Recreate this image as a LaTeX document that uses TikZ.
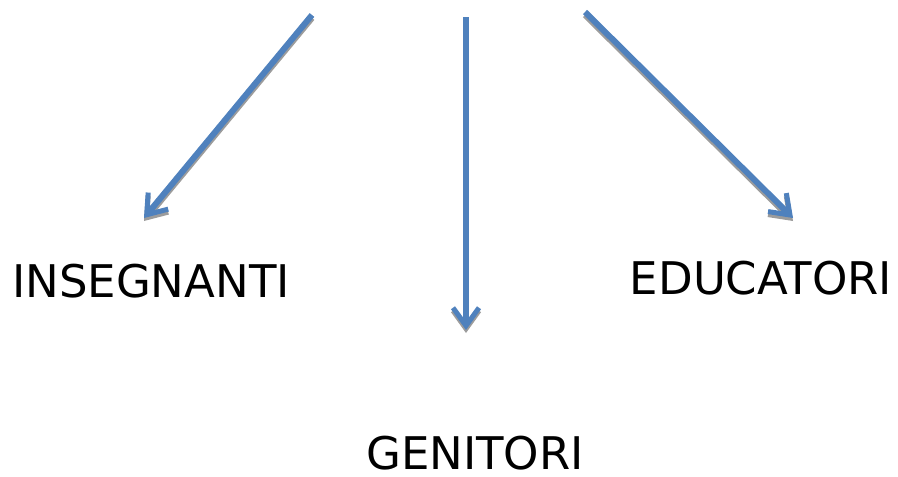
\documentclass[tikz,border=0pt]{standalone}
\usepackage{fontspec}
\setmainfont{DejaVu Sans}
\usepackage{tikz}
\usetikzlibrary{arrows.meta}
\tikzset{>=latex}
\usepackage{xcolor}
\definecolor{arrowblue}{HTML}{4F81BD}
\definecolor{shadowgray}{HTML}{9C9C9C}
\tikzstyle{pointer}=[line width=6pt,-{Straight Barb[length=18pt,width=26pt,line width=5pt]}]
\tikzstyle{word}=[inner sep=0pt,font=\fontsize{45}{54}\selectfont]

\begin{document}
\begin{tikzpicture}[x=1pt,y=-1pt]
				\useasboundingbox (0,0) rectangle (898,477);
				\node[word] at (151, 281)   (ins) {INSEGNANTI};
				\node[word] at (761, 278)   (edu) {EDUCATORI};
				\node[word] at (475, 453)   (gen) {GENITORI};
				
				\coordinate (s1) at (312,15);  \coordinate (t1) at (144,218);
				\coordinate (s2) at (466,17);  \coordinate (t2) at (466,330);
				\coordinate (s3) at (585,12);  \coordinate (t3) at (793,218);
				
				% shadow first, then the blue arrows
				\foreach \col/\off in {shadowgray/3, arrowblue/0} {
					\begin{scope}[transform canvas={shift={(0pt,-\off pt)}}]
						\draw [pointer,draw=\col] (s1) -- (t1);
						\draw [pointer,draw=\col] (s2) -- (t2);
						\draw [pointer,draw=\col] (s3) -- (t3);
					\end{scope}
				}
			\end{tikzpicture}
\end{document}
